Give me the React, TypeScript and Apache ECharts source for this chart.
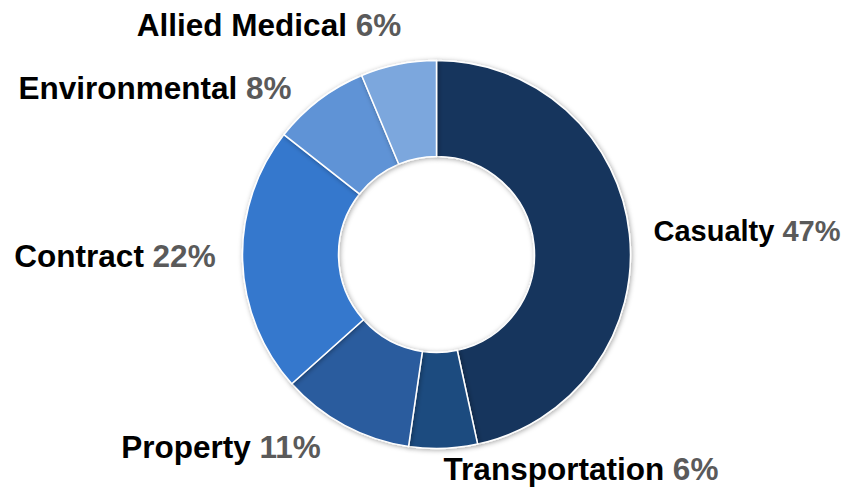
import React, { useEffect, useRef } from "react";
import * as echarts from "echarts";

const categories = ["Casualty", "Transportation", "Property", "Contract", "Environmental", "Allied Medical"];
const shares = [46.6, 5.7, 11.1, 22.2, 8.1, 6.3];
const sliceColors = ["#17365d", "#1f4b7f", "#295b9e", "#3578cd", "#5e93d6", "#7ba7dd"];

// label anchor (centre of text) per category, and font size
const labelAnchors: [number, number][] = [
  [747, 231],
  [581, 469],
  [221, 447],
  [115, 256],
  [155, 88],
  [269, 25],
];
const labelSizes = [29, 31.5, 31.5, 31.5, 31.5, 31.5];

export default function App() {
  const ref = useRef<HTMLDivElement>(null);
  useEffect(() => {
    document.body.style.margin = "0";
    if (!ref.current) return;
    const chart = echarts.init(ref.current, null, { renderer: "svg" });
    const font = "Arial, 'Liberation Sans', sans-serif";
    chart.setOption({
      animation: false,
      backgroundColor: "#ffffff",
      series: [
        {
          type: "pie",
          center: [436.5, 254.5],
          radius: [98, 194],
          startAngle: 90,
          clockwise: true,
          avoidLabelOverlap: false,
          itemStyle: {
            borderColor: "#ffffff",
            borderWidth: 1.5,
            shadowBlur: 5,
            shadowColor: "rgba(0,0,0,0.35)",
            shadowOffsetX: 1,
            shadowOffsetY: 1,
          },
          labelLine: { show: false },
          data: categories.map((name, i) => ({
            name,
            value: shares[i],
            itemStyle: { color: sliceColors[i] },
            label: {
              rich: {
                n: { fontFamily: font, fontWeight: "bold", fontSize: labelSizes[i], lineHeight: labelSizes[i], color: "#000000" },
                p: { fontFamily: font, fontWeight: "bold", fontSize: labelSizes[i], lineHeight: labelSizes[i], color: "#5a5a5a" },
              },
            },
          })),
          label: {
            show: true,
            position: "outside",
            formatter: (p: any) => `{n|${p.name}\u00a0}{p|${Math.round(p.percent)}%}`,
          },
          labelLayout: (params: any) => {
            const a = labelAnchors[params.dataIndex];
            return { x: a[0], y: a[1], align: "center", verticalAlign: "middle", hideOverlap: false };
          },
        },
      ],
    });
    return () => chart.dispose();
  }, []);
  return <div ref={ref} style={{ width: 844, height: 488 }} />;
}
